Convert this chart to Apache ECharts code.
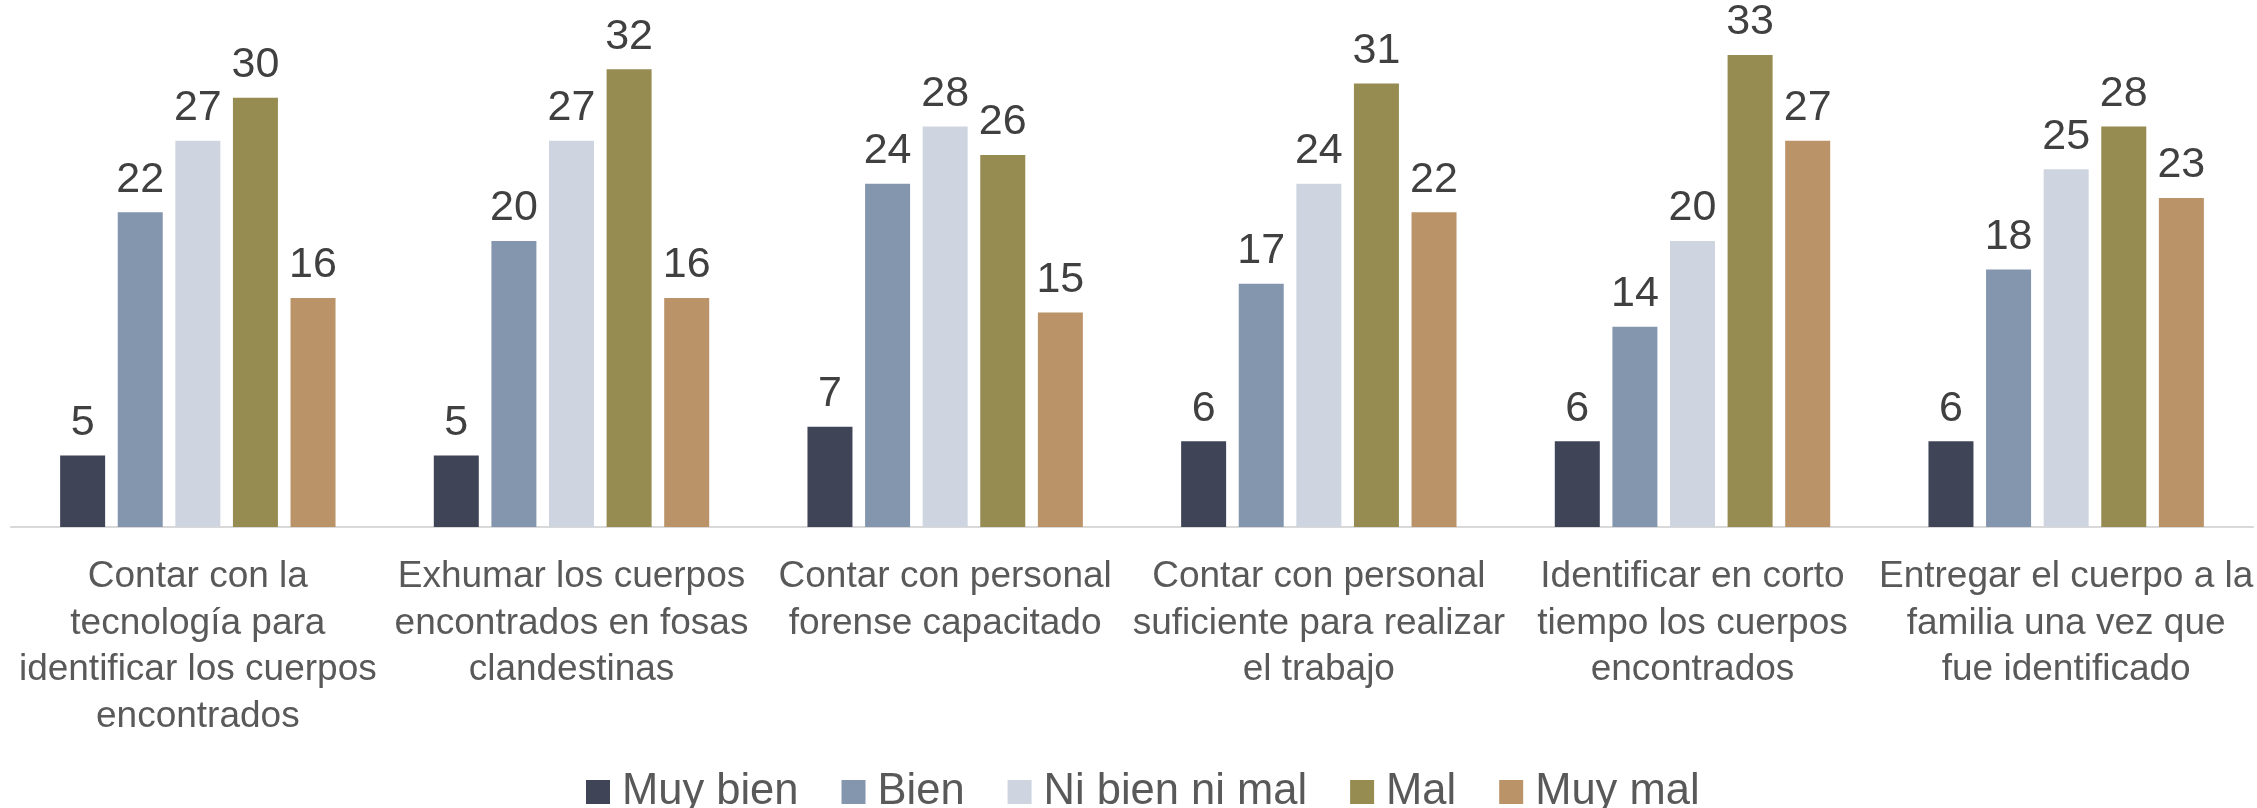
<!DOCTYPE html>
<html>
<head>
<meta charset="utf-8">
<script src="https://cdn.jsdelivr.net/npm/echarts@6/dist/echarts.min.js"></script>
<style>
html,body{margin:0;padding:0;background:#fff;}
#c{width:2257px;height:808px;}
</style>
</head>
<body>
<div id="c"></div>
<script>
const categories = [
  "Contar con la\ntecnología para\nidentificar los cuerpos\nencontrados",
  "Exhumar los cuerpos\nencontrados en fosas\nclandestinas",
  "Contar con personal\nforense capacitado",
  "Contar con personal\nsuficiente para realizar\nel trabajo",
  "Identificar en corto\ntiempo los cuerpos\nencontrados",
  "Entregar el cuerpo a la\nfamilia una vez que\nfue identificado"
];
const seriesNames = ["Muy bien", "Bien", "Ni bien ni mal", "Mal", "Muy mal"];
const muyBien = [5, 5, 7, 6, 6, 6];
const bien = [22, 20, 24, 17, 14, 18];
const niBienNiMal = [27, 27, 28, 24, 20, 25];
const mal = [30, 32, 26, 31, 33, 28];
const muyMal = [16, 16, 15, 22, 27, 23];
const colors = ["#404457", "#8495ae", "#ced5e0", "#968b51", "#bb9368"];

const values = [muyBien, bien, niBienNiMal, mal, muyMal];
const FONT = "'Liberation Sans', Arial, sans-serif";

const chart = echarts.init(document.getElementById('c'), null, {renderer: 'canvas'});
chart.setOption({
  animation: false,
  backgroundColor: '#ffffff',
  grid: {left: 11, right: 4, top: 12, bottom: 281, containLabel: false},
  legend: {
    data: seriesNames,
    top: 765,
    left: 581,
    icon: 'rect',
    itemWidth: 24,
    itemHeight: 24,
    itemGap: 43,
    textStyle: {fontFamily: FONT, fontSize: 43.5, color: '#595959', padding: [0, 0, 0, 7]}
  },
  xAxis: {
    type: 'category',
    data: categories,
    axisLine: {show: true, lineStyle: {color: '#d9d9d9', width: 2}},
    axisTick: {show: false},
    axisLabel: {
      interval: 0,
      margin: 27,
      fontFamily: FONT,
      fontSize: 37,
      lineHeight: 46.5,
      color: '#595959'
    }
  },
  yAxis: {
    type: 'value',
    min: 0,
    max: 36,
    show: false,
    splitLine: {show: false}
  },
  series: seriesNames.map((name, i) => ({
    name: name,
    type: 'bar',
    data: values[i],
    barWidth: 45,
    barGap: '28%',
    itemStyle: {color: colors[i]},
    label: {
      show: true,
      position: 'top',
      distance: 11,
      fontFamily: FONT,
      fontSize: 43,
      color: '#404040'
    }
  }))
});
</script>
</body>
</html>
